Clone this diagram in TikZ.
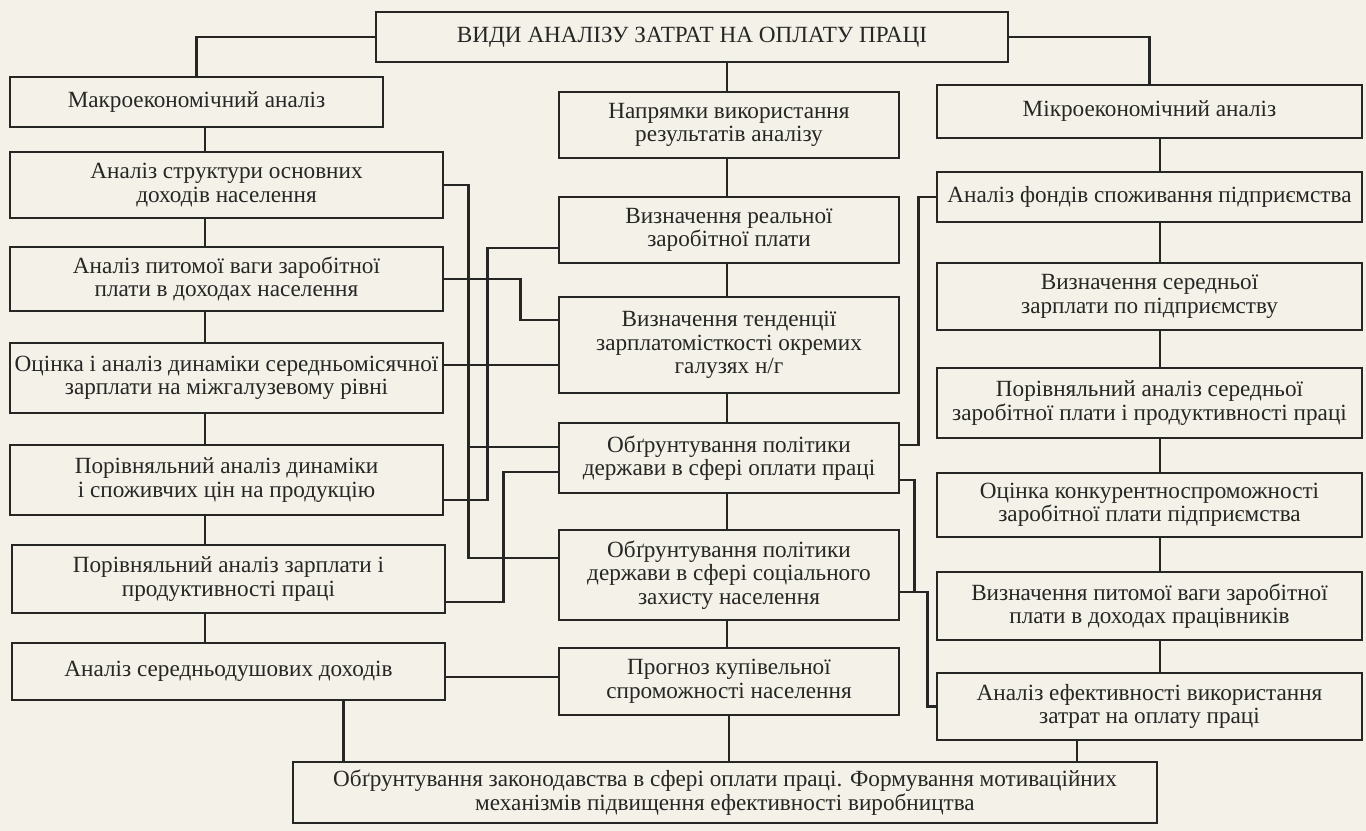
\documentclass[tikz,border=0pt]{standalone}
\usepackage{fontspec}
\setmainfont{Liberation Serif}
\usepackage{tikz}
\usetikzlibrary{positioning, calc}
\definecolor{paper}{RGB}{243,241,232}
\definecolor{ink}{RGB}{38,38,36}

\begin{document}
\begin{tikzpicture}[
        x=0.02cm, y=-0.02cm, % one unit = one pixel of the scan
        font=\fontsize{13.2}{13.4}\selectfont,
        box/.style={draw=ink, line width=1.6pt, fill=paper, text=ink, align=center, inner sep=0pt},
        lbox/.style={box, minimum width=8.66cm},
        mbox/.style={box, minimum width=6.8cm},
        rbox/.style={box, minimum width=8.5cm},
        link/.style={draw=ink, line width=1.6pt}
    ]
    \fill[paper] (0,0) rectangle (1366,831);
    \useasboundingbox (0,0) rectangle (1366,831);

    % --- Nodes ---
    \node[box, minimum width=12.64cm, minimum height=1cm] (title) at (692,37) {ВИДИ АНАЛІЗУ ЗАТРАТ НА ОПЛАТУ ПРАЦІ};

    % left column
    \node[box, minimum width=7.46cm, minimum height=1cm] (macro) at (196.5,102) {Макроекономічний аналіз};
    \node[lbox, minimum height=1.32cm] (strukt) at (226.5,185) {Аналіз структури основних\\доходів населення};
    \node[lbox, minimum height=1.28cm] (pytoma) at (226.5,279) {Аналіз питомої ваги заробітної\\плати в доходах населення};
    \node[lbox, minimum height=1.4cm] (otsinka) at (226.5,378) {Оцінка і аналіз динаміки середньомісячної\\зарплати на міжгалузевому рівні};
    \node[lbox, minimum height=1.4cm] (dyn) at (226.5,480) {Порівняльний аналіз динаміки\\і споживчих цін на продукцію};
    \node[lbox, minimum height=1.36cm] (zarp) at (228.5,579) {Порівняльний аналіз зарплати і\\продуктивності праці};
    \node[lbox, minimum height=1.14cm] (sered) at (228.5,671.5) {Аналіз середньодушових доходів};

    % middle column
    \node[mbox, minimum height=1.32cm] (napr) at (729,125) {Напрямки використання\\результатів аналізу};
    \node[mbox, minimum height=1.32cm] (real) at (729,230) {Визначення реальної\\заробітної плати};
    \node[mbox, minimum height=1.92cm] (tend) at (729,345) {Визначення тенденції\\зарплатомісткості окремих\\галузях н/г};
    \node[mbox, minimum height=1.4cm] (oplata) at (729,458) {Обґрунтування політики\\держави в сфері оплати праці};
    \node[mbox, minimum height=1.8cm] (soc) at (729,575) {Обґрунтування політики\\держави в сфері соціального\\захисту населення};
    \node[mbox, minimum height=1.34cm] (prog) at (729,681.5) {Прогноз купівельної\\спроможності населення};

    % right column
    \node[rbox, minimum height=1.06cm] (micro) at (1149.5,111.5) {Мікроекономічний аналіз};
    \node[rbox, minimum height=1cm] (fond) at (1149.5,197) {Аналіз фондів споживання підприємства};
    \node[rbox, minimum height=1.34cm] (zser) at (1149.5,296.5) {Визначення середньої\\зарплати по підприємству};
    \node[rbox, minimum height=1.4cm] (porivn) at (1149.5,403) {Порівняльний аналіз середньої\\заробітної плати і продуктивності праці};
    \node[rbox, minimum height=1.28cm] (konk) at (1149.5,505) {Оцінка конкурентноспроможності\\заробітної плати підприємства};
    \node[rbox, minimum height=1.36cm] (pvaga) at (1149.5,606) {Визначення питомої ваги заробітної\\плати в доходах працівників};
    \node[rbox, minimum height=1.34cm] (efekt) at (1149.5,706.5) {Аналіз ефективності використання\\затрат на оплату праці};

    \node[box, minimum width=17.28cm, minimum height=1.22cm] (bottom) at (725,792.5) {Обґрунтування законодавства в сфері оплати праці. Формування мотиваційних\\механізмів підвищення ефективності виробництва};

    % --- Connections ---
    \coordinate (lc) at (205,0);
    \coordinate (mc) at (727,0);
    \coordinate (rc) at (1160,0);

    \draw[link] (title.west) -| (macro.north);
    \draw[link] (title.east) -| (micro.north);
    \draw[link] (title.south -| mc) -- (napr.north -| mc);

    \foreach \a/\b in {macro/strukt, strukt/pytoma, pytoma/otsinka, otsinka/dyn, dyn/zarp, zarp/sered}
        \draw[link] (\a.south -| lc) -- (\b.north -| lc);
    \foreach \a/\b in {napr/real, real/tend, tend/oplata, oplata/soc, soc/prog}
        \draw[link] (\a.south -| mc) -- (\b.north -| mc);
    \foreach \a/\b in {micro/fond, fond/zser, zser/porivn, porivn/konk, konk/pvaga, pvaga/efekt}
        \draw[link] (\a.south -| rc) -- (\b.north -| rc);

    % left column to middle column
    \coordinate (ot) at ($(tend.west)+(0,20)$);
    \coordinate (sp) at ($(prog.west)+(0,-4.5)$);
    \draw[link] (strukt.east) -| ($(soc.west)+(-89,-17)$) -- ($(soc.west)+(0,-17)$);
    \draw[link] ($(oplata.west)+(-89,-11)$) -- ($(oplata.west)+(0,-11)$);
    \draw[link] (pytoma.east) -| ($(tend.west)+(-37,-25)$) -- ($(tend.west)+(0,-25)$);
    \draw[link] (ot -| otsinka.east) -- (ot);
    \draw[link] ($(dyn.east)+(0,20)$) -| ($(real.west)+(-70,18)$) -- ($(real.west)+(0,18)$);
    \draw[link] ($(zarp.east)+(0,23)$) -| ($(oplata.west)+(-54,14)$) -- ($(oplata.west)+(0,14)$);
    \draw[link] (sp -| sered.east) -- (sp);

    % right column to middle column
    \draw[link] (fond.west) -| ($(oplata.east)+(18,-13)$) -- ($(oplata.east)+(0,-13)$);
    \draw[link] ($(oplata.east)+(0,22)$) -| ($(soc.east)+(14,17)$);
    \draw[link] ($(soc.east)+(0,17)$) -| ($(efekt.west)+(-8,0)$) -- (efekt.west);

    % into the bottom box
    \coordinate (sb) at ($(sered.south)+(115,0)$);
    \coordinate (eb) at ($(efekt.south)+(-72.5,0)$);
    \draw[link] (sb) -- (sb |- bottom.north);
    \draw[link] (prog.south) -- (prog.south |- bottom.north);
    \draw[link] (eb) -- (eb |- bottom.north);
\end{tikzpicture}
\end{document}
